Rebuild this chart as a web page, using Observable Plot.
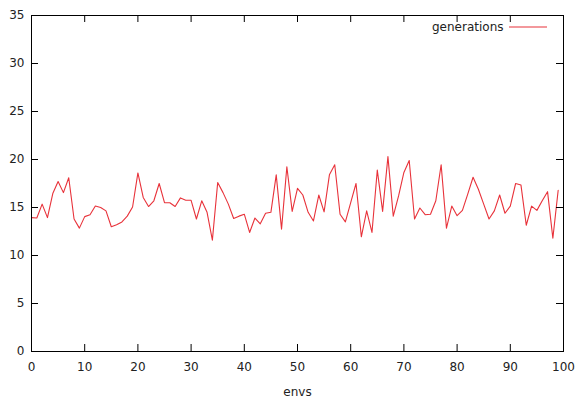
<!DOCTYPE html>
<html>
<head>
<meta charset="utf-8">
<script src="https://cdn.jsdelivr.net/npm/d3@7"></script>
<script src="https://cdn.jsdelivr.net/npm/@observablehq/plot@0.6"></script>
<style>
  html, body { margin: 0; padding: 0; background: #fff; }
  #chart svg { display: block; }
</style>
</head>
<body>
<div id="chart"></div>
<script>
const seriesName = "generations";
const xLabel = "envs";
const xTicks = [0, 10, 20, 30, 40, 50, 60, 70, 80, 90, 100];
const yTicks = [0, 5, 10, 15, 20, 25, 30, 35];
const envs = d3.range(0, 100);
const generations = [
  13.95, 13.9, 15.35, 13.95, 16.45, 17.7, 16.55, 18.1, 13.8, 12.85,
  14.05, 14.25, 15.15, 15.0, 14.65, 13.0, 13.2, 13.5, 14.1, 15.05,
  18.6, 16.05, 15.1, 15.7, 17.5, 15.5, 15.5, 15.1, 16.0, 15.75,
  15.75, 13.8, 15.7, 14.5, 11.6, 17.6, 16.55, 15.35, 13.85, 14.1,
  14.3, 12.4, 13.9, 13.3, 14.4, 14.5, 18.4, 12.75, 19.25, 14.6,
  17.0, 16.3, 14.5, 13.6, 16.3, 14.55, 18.4, 19.45, 14.3, 13.5,
  15.5, 17.5, 11.95, 14.65, 12.4, 18.9, 14.6, 20.3, 14.1, 16.2,
  18.65, 19.9, 13.8, 14.95, 14.25, 14.3, 15.7, 19.45, 12.85, 15.15,
  14.15, 14.7, 16.4, 18.15, 16.9, 15.35, 13.8, 14.65, 16.3, 14.4,
  15.15, 17.5, 17.35, 13.15, 15.15, 14.7, 15.7, 16.65, 11.8, 16.8
];
const data = envs.map((e, i) => ({env: e, gen: generations[i]}));

const W = 577, H = 399;
const mL = 31, mR = 14, mT = 15, mB = 48;
const pw = W - mL - mR, ph = H - mT - mB;
const tick = 7;
const lineColor = "#e8323a";
const font = "DejaVu Sans, sans-serif";
const fs = 12;

const chart = Plot.plot({
  width: W,
  height: H,
  marginLeft: mL,
  marginRight: mR,
  marginTop: mT,
  marginBottom: mB,
  style: {fontFamily: font, fontSize: fs + "px", color: "#222", background: "#fff"},
  x: {domain: [0, 100]},
  y: {domain: [0, 35]},
  marks: [
    Plot.lineY(data, {x: "env", y: "gen", stroke: lineColor, strokeWidth: 1.1}),
    // inward ticks, bottom and top
    Plot.tickX(xTicks, {x: d => d, insetTop: ph - tick, stroke: "#000"}),
    Plot.tickX(xTicks, {x: d => d, insetBottom: ph - tick, stroke: "#000"}),
    // inward ticks, left and right
    Plot.tickY(yTicks, {y: d => d, insetRight: pw - tick, stroke: "#000"}),
    Plot.tickY(yTicks, {y: d => d, insetLeft: pw - tick, stroke: "#000"}),
    Plot.axisX(xTicks, {anchor: "bottom", tickSize: 0, tickPadding: 11, label: null, fill: "#222"}),
    Plot.axisY(yTicks, {anchor: "left", tickSize: 0, tickPadding: 7, label: null, fill: "#222"}),
    Plot.text([xLabel], {frameAnchor: "bottom", dy: 41, lineAnchor: "middle", text: d => d, fill: "#222", fontSize: fs}),
    Plot.text([seriesName], {frameAnchor: "top-right", dx: -60, dy: 12, lineAnchor: "middle", textAnchor: "end", text: d => d, fill: "#222", fontSize: fs}),
    Plot.frame({stroke: "#000", strokeWidth: 1})
  ]
});

// legend key line
d3.select(chart).append("line")
  .attr("x1", W - mR - 54).attr("x2", W - mR - 16)
  .attr("y1", mT + 12).attr("y2", mT + 12)
  .attr("stroke", lineColor).attr("stroke-width", 1.1);

document.getElementById("chart").appendChild(chart);
</script>
</body>
</html>
